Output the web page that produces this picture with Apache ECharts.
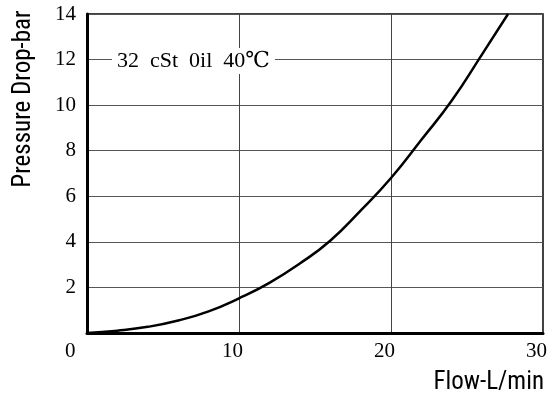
<!DOCTYPE html>
<html><head><meta charset="utf-8">
<script src="https://cdn.jsdelivr.net/npm/echarts@6/dist/echarts.min.js"></script>
<style>html,body{margin:0;padding:0;background:#fff}#c{width:553px;height:401px}</style>
</head><body><div id="c"></div>
<script>
const flow = [0, 2, 4, 6, 8, 10, 12, 14, 16, 18, 20, 22, 24, 26, 27.7];
const pressure = [0, 0.1, 0.27, 0.55, 0.95, 1.52, 2.2, 3.05, 4.05, 5.37, 6.8, 8.48, 10.2, 12.24, 14];
const xTicks = [0, 10, 20, 30];
const yTicks = [0, 2, 4, 6, 8, 10, 12, 14];
const noteText = '32  cSt  0il  40℃';
const xName = 'Flow-L/min';
const yName = 'Pressure Drop-bar';

const serif = "'Liberation Serif','DejaVu Serif',serif";
const narrow = "'Liberation Sans Narrow','Roboto Condensed','Liberation Sans',sans-serif";
const chart = echarts.init(document.getElementById('c'), null, {renderer: 'canvas'});
chart.setOption({
  animation: false,
  grid: {left: 87, right: 10, top: 14, bottom: 68, show: true, borderColor: '#000', borderWidth: 1.5},
  xAxis: {
    type: 'value', min: xTicks[0], max: xTicks[xTicks.length - 1], interval: 10,
    axisLine: {show: true, lineStyle: {color: '#000', width: 3}},
    axisTick: {show: false},
    splitLine: {show: true, lineStyle: {color: '#444', width: 1}},
    axisLabel: {showMinLabel: false, color: '#000', fontFamily: serif, fontSize: 21, margin: 8, padding: [0, 13, 0, 0]}
  },
  yAxis: {
    type: 'value', min: yTicks[0], max: yTicks[yTicks.length - 1], interval: 2,
    axisLine: {show: true, lineStyle: {color: '#000', width: 3}},
    axisTick: {show: false},
    splitLine: {show: true, lineStyle: {color: '#555', width: 1}},
    axisLabel: {showMinLabel: false, color: '#000', fontFamily: serif, fontSize: 21, margin: 11}
  },
  graphic: [
    {type: 'text', left: 65, top: 341, style: {text: '0', font: '21px ' + serif, fill: '#000'}},
    {type: 'text', right: 9, top: 370, style: {text: xName, font: '25px ' + narrow, fill: '#000'}},
    {type: 'text', x: 24, y: 99, rotation: Math.PI / 2,
      style: {text: yName, font: '25px ' + narrow, fill: '#000', align: 'center', verticalAlign: 'middle'}},
    {type: 'text', x: 112, y: 61, z: 10,
      style: {text: noteText, font: '22px ' + serif, fill: '#000', verticalAlign: 'middle',
        backgroundColor: '#fff', padding: [2, 5, 2, 5]}}
  ],
  series: [{
    type: 'line', smooth: 0.5, symbol: 'none',
    lineStyle: {color: '#000', width: 2.5},
    data: flow.map((f, i) => [f, pressure[i]])
  }]
});
</script></body></html>
